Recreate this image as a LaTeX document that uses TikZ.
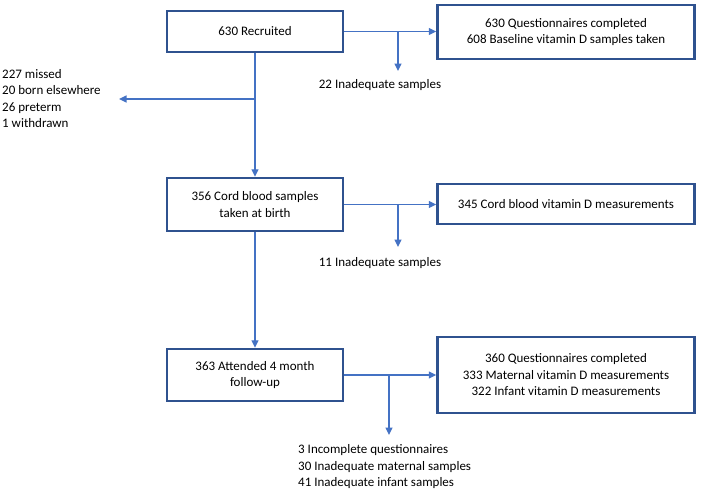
\documentclass[tikz,border=0pt]{standalone}
\usepackage{fontspec}
\setmainfont{Carlito}
\usetikzlibrary{arrows.meta}
\definecolor{boxblue}{RGB}{47,82,143}
\definecolor{arrblue}{RGB}{68,114,196}
\begin{document}
\begin{tikzpicture}[x=1pt,y=-1pt,
  font=\fontsize{13}{16.5}\selectfont,
  box/.style={draw=boxblue,line width=2.5pt,align=center,inner sep=0pt},
  lbl/.style={inner sep=0pt,align=left},
  arr/.style={draw=arrblue,line width=1.4pt,-{Triangle[length=7.5pt,width=7pt]}}]
\useasboundingbox (0,0) rectangle (709,491);
\node[box,minimum width=176pt,minimum height=41pt] (b1) at (255,31.5) {630 Recruited};
\node[box,minimum width=257pt,minimum height=54pt] (b2) at (566,32) {630 Questionnaires completed\\608 Baseline vitamin D samples taken};
\node[box,minimum width=176pt,minimum height=53pt] (b3) at (255,204.5) {356 Cord blood samples\\taken at birth};
\node[box,minimum width=257pt,minimum height=40pt] (b4) at (566,204) {345 Cord blood vitamin D measurements};
\node[box,minimum width=176pt,minimum height=52pt] (b5) at (255,375) {363 Attended 4 month\\follow-up};
\node[box,minimum width=257pt,minimum height=76pt] (b6) at (566,375) {360 Questionnaires completed\\333 Maternal vitamin D measurements\\322 Infant vitamin D measurements};
\node[lbl,anchor=west] (ex) at (2,98.5) {227 missed\\20 born elsewhere\\26 preterm\\1 withdrawn};
\node[lbl] (i1) at (380,85) {22 Inadequate samples};
\node[lbl] (i2) at (380,263) {11 Inadequate samples};
\node[lbl,anchor=west] (i3) at (298,467) {3 Incomplete questionnaires\\30 Inadequate maternal samples\\41 Inadequate infant samples};
\coordinate (c1) at (398,31.5);
\coordinate (c1e) at (398,71);
\coordinate (cv) at (255,99);
\coordinate (cl) at (119,99);
\coordinate (c3) at (398,204);
\coordinate (c3e) at (398,247);
\coordinate (c5) at (389,375);
\coordinate (c5e) at (389,435);
\draw[arr] (b1.east) -- (b1.east -| b2.west);
\draw[arr] (c1) -- (c1e);
\draw[arr] (b1.south) -- (b3.north);
\draw[arr] (cv) -- (cl);
\draw[arr] (b3.east) -- (b3.east -| b4.west);
\draw[arr] (c3) -- (c3e);
\draw[arr] (b3.south) -- (b5.north);
\draw[arr] (b5.east) -- (b5.east -| b6.west);
\draw[arr] (c5) -- (c5e);
\end{tikzpicture}
\end{document}
